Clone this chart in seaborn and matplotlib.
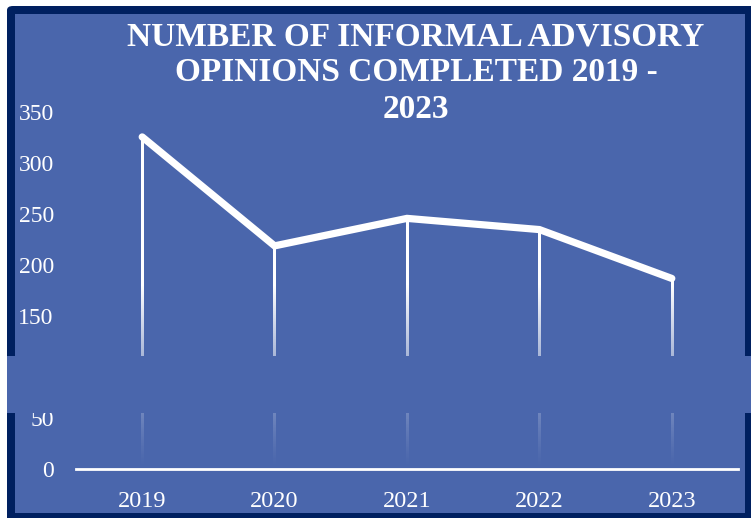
import numpy as np
import pandas as pd
import matplotlib
matplotlib.use("Agg")
import matplotlib.pyplot as plt
from matplotlib.patches import Rectangle, FancyBboxPatch
import seaborn as sns

# Informal advisory opinions completed per year
years = ["2019", "2020", "2021", "2022", "2023"]
opinions = [326, 219, 246, 235, 187]
y_ticks = [0, 50, 100, 150, 200, 250, 300, 350]
title = "NUMBER OF INFORMAL ADVISORY\nOPINIONS COMPLETED 2019 -\n2023"

BG = "#4A66AC"
NAVY = "#002060"
W, H = 751, 518

sns.set_theme(style="white")
plt.rcParams["font.family"] = ["Liberation Serif", "DejaVu Serif"]

fig = plt.figure(figsize=(W / 100, H / 100), dpi=100, facecolor="white")


def fx(px):
    return px / W


def fy(py):
    return 1 - py / H


# Framed chart area (behind the axes)
frame = FancyBboxPatch((fx(7), fy(530)), fx(751 + 20) - fx(7), fy(6) - fy(530),
                       boxstyle="round,pad=0,rounding_size=0.008",
                       transform=fig.transFigure, facecolor=NAVY, edgecolor="none",
                       zorder=-3)
fig.patches.append(frame)
inner = Rectangle((fx(15), fy(513)), fx(745) - fx(15), fy(14) - fy(513),
                  transform=fig.transFigure, facecolor=BG, edgecolor="none", zorder=-2)
fig.patches.append(inner)

ax = fig.add_axes([fx(76), fy(468.8), fx(738) - fx(76), fy(112.5) - fy(468.8)])
ax.set_facecolor("none")
ax.set_zorder(0)

df = pd.DataFrame({"year": years, "opinions": opinions})
xs = np.arange(len(years))

# Drop lines: thin white strips fading toward the baseline
half_w = 0.0095
for x, v in zip(xs, opinions):
    levels = np.linspace(v, 0, 200)
    alpha = np.clip(levels / 180, 0, None) ** 1.3
    alpha = np.minimum(alpha, 1.0)
    rgba = np.ones((len(levels), 1, 4))
    rgba[:, 0, 3] = alpha
    ax.imshow(rgba, extent=(x - half_w, x + half_w, 0, v), aspect="auto",
              interpolation="bilinear", zorder=2)

sns.lineplot(data=df, x="year", y="opinions", ax=ax, color="white",
             linewidth=5.2, sort=False, zorder=3)
for ln in ax.get_lines():
    ln.set_solid_capstyle("round")
    ln.set_solid_joinstyle("miter")

ax.set_xlim(-0.5, len(years) - 0.5)
ax.set_ylim(0, 350)
ax.set_aspect("auto")
ax.set_yticks(y_ticks)
ax.set_xticks(xs)
ax.set_xticklabels(years)
ax.set_xlabel("")
ax.set_ylabel("")
for s in ["top", "right", "left"]:
    ax.spines[s].set_visible(False)
ax.spines["bottom"].set_color("white")
ax.spines["bottom"].set_linewidth(2.0)
ax.spines["bottom"].set_zorder(4)
ax.tick_params(axis="y", length=0, pad=16, labelsize=17, labelcolor="white")
ax.tick_params(axis="x", length=0, pad=16, labelsize=17.5, labelcolor="white")

fig.text(fx(416), fy(21), title, ha="center", va="top", color="white",
         fontsize=24, fontweight="bold", linespacing=1.22, zorder=5)

# Horizontal band across the chart, over the axes
band = Rectangle((fx(7), fy(413)), 1 - fx(7), fy(356) - fy(413),
                 transform=fig.transFigure, facecolor=BG, edgecolor="none", zorder=10)
fig.patches.append(band)

fig.savefig("out.png", dpi=100, facecolor="white")
